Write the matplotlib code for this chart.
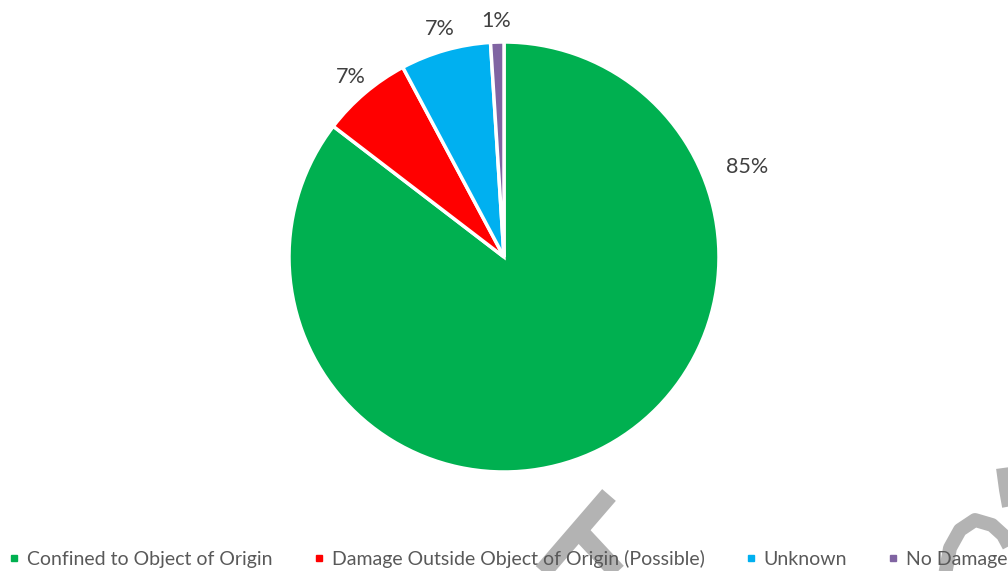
import matplotlib.pyplot as plt
from matplotlib.lines import Line2D

categories = ['Confined to Object of Origin', 'Damage Outside Object of Origin (Possible)',
              'Unknown', 'No Damage']
shares = [85.4, 6.8, 6.8, 1.0]
colors = ['#00B050', '#FF0000', '#00B0F0', '#8064A2']

plt.rcParams['font.family'] = ['Lato', 'DejaVu Sans']

fig = plt.figure(figsize=(10.08, 5.71), dpi=100)
W, H = 1008, 571

# pie: centre (504, 257) px, radius 215 px
ax = fig.add_axes([(504 - 215) / W, (H - 257 - 215) / H, 430 / W, 430 / H])
wedges, texts, autotexts = ax.pie(
    shares, colors=colors, startangle=90, counterclock=False,
    autopct='%.0f%%', pctdistance=1.1,
    wedgeprops=dict(edgecolor='white', linewidth=2.5),
    textprops=dict(color='#404040', fontsize=15.5))
# Excel's best-fit put the big label at the upper right
autotexts[0].set_position((1.13, 0.42))
ax.set_xlim(-1, 1)
ax.set_ylim(-1, 1)
ax.set_aspect('equal')

# grey watermark fragments (behind the legend text)
wm = '#b3b3b3'
strokes = [([609, 540], [495, 575], 13),
           ([578, 620], [530, 575], 13),
           ([945, 950, 960, 975, 992, 1003, 1010], [575, 548, 530, 520, 525, 535, 548], 10),
           ([1003, 1006, 1010], [468, 490, 512], 10)]
for xs, ys, lw in strokes:
    fig.add_artist(Line2D([x / W for x in xs], [1 - y / H for y in ys],
                          transform=fig.transFigure, color=wm, lw=lw, zorder=0,
                          solid_capstyle='butt', solid_joinstyle='round'))

handles = [Line2D([], [], marker='s', linestyle='none', markersize=5,
                  markerfacecolor=c, markeredgecolor=c) for c in colors]
leg = fig.legend(handles, categories, loc='center left', bbox_to_anchor=(3.3 / W, 1 - 559 / H),
                 ncol=4, frameon=False, fontsize=14, handlelength=0.5,
                 handletextpad=0.42, columnspacing=2.12, borderaxespad=0, borderpad=0.3)
for t in leg.get_texts():
    t.set_color('#595959')
leg.set_zorder(5)

fig.savefig('out.png', dpi=100)
